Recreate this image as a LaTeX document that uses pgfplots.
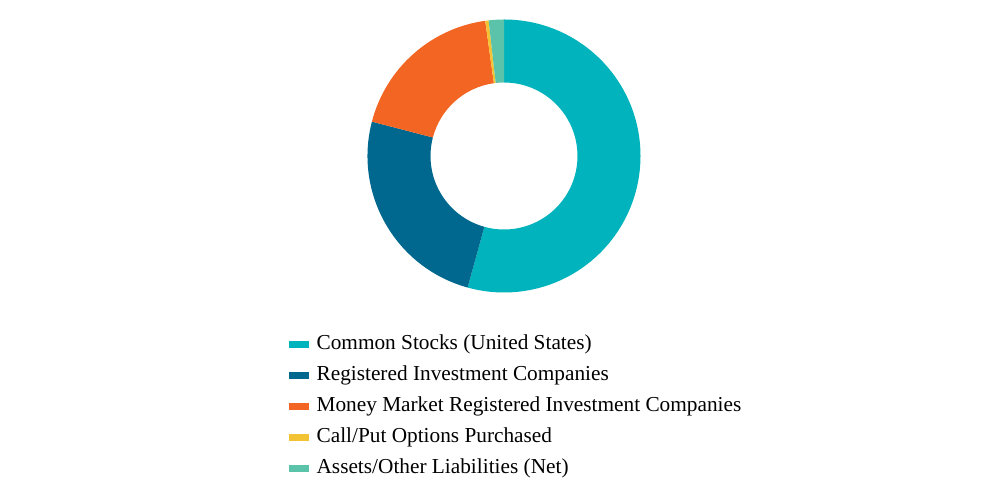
\documentclass[border=0pt]{standalone}
\usepackage{pgfplots}
\pgfplotsset{compat=1.18}
\usepackage{pgfplotstable}
\usepackage{fontspec}
\setmainfont{Liberation Serif}

\definecolor{cstock}{HTML}{00B3BC}
\definecolor{regist}{HTML}{00688E}
\definecolor{money}{HTML}{F26522}
\definecolor{option}{HTML}{F2C335}
\definecolor{assets}{HTML}{5BC3AA}

% share of net assets, in percent, clockwise from 12 o'clock
\pgfplotstableread[col sep=comma]{
value,color
54.3,cstock
24.75,regist
18.75,money
0.4,option
1.8,assets
}\alloc

\begin{document}
\begin{tikzpicture}
\begin{axis}[
  hide axis, scale only axis,
  width=1008bp, height=480bp,
  xmin=0, xmax=1008, ymin=0, ymax=480,
  clip=false,
  legend style={at={(289/1008,1-334/480)}, anchor=north west,
    draw=none, fill=none, inner sep=0pt, row sep=11bp, column sep=8bp,
    font=\fontsize{21.3bp}{25bp}\selectfont,
    nodes={inner sep=0pt, text height=15bp, text depth=5bp},
    cells={anchor=west}},
  legend image code/.code={\fill[#1] (0bp,-3bp) rectangle (19bp,3bp);},
  legend cell align=left,
]
\path (axis cs:0,0) (axis cs:1008,480);
\def\cx{504}\def\cy{324}\def\ro{136.5}\def\ri{73.5}
\pgfmathsetmacro\start{90}
\pgfplotsforeachungrouped \i in {0,...,4}{%
  \pgfplotstablegetelem{\i}{value}\of\alloc
  \let\val\pgfplotsretval
  \pgfplotstablegetelem{\i}{color}\of\alloc
  \let\col\pgfplotsretval
  \pgfmathsetmacro\stop{\start-3.6*\val}
  \pgfmathsetmacro\xa{\cx+\ro*cos(\start)}
  \pgfmathsetmacro\ya{\cy+\ro*sin(\start)}
  \pgfmathsetmacro\xb{\cx+\ri*cos(\stop)}
  \pgfmathsetmacro\yb{\cy+\ri*sin(\stop)}
  \edef\cmd{\noexpand\fill[\col] (axis cs:\xa,\ya)
    arc[start angle=\start, end angle=\stop, radius=\ro bp]
    -- (axis cs:\xb,\yb)
    arc[start angle=\stop, end angle=\start, radius=\ri bp] -- cycle;}%
  \cmd
  \global\let\start\stop
}
\addlegendimage{cstock}\addlegendentry{Common Stocks (United States)}
\addlegendimage{regist}\addlegendentry{Registered Investment Companies}
\addlegendimage{money}\addlegendentry{Money Market Registered Investment Companies}
\addlegendimage{option}\addlegendentry{Call/Put Options Purchased}
\addlegendimage{assets}\addlegendentry{Assets/Other Liabilities (Net)}
\end{axis}
\end{tikzpicture}
\end{document}
